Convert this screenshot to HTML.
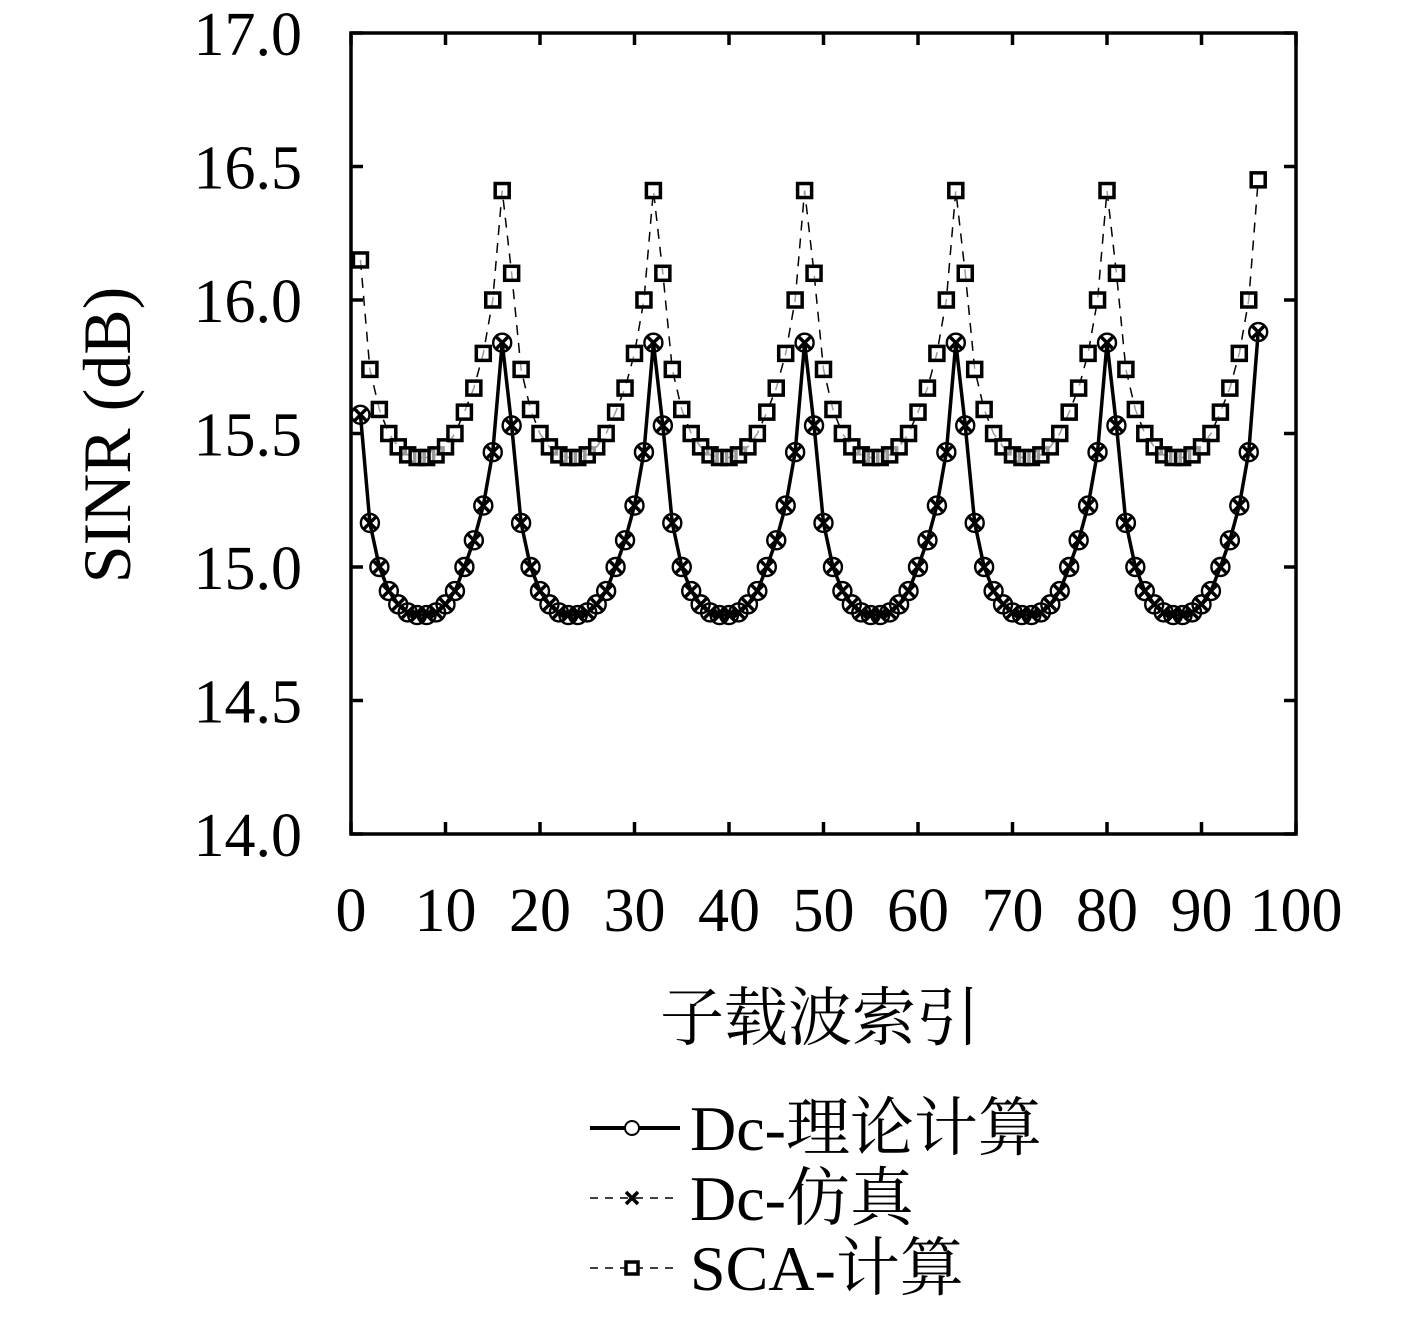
<!DOCTYPE html>
<html><head><meta charset="utf-8"><style>
body{margin:0;background:#fff}
text{font-family:"Liberation Serif","Noto Serif CJK SC","Noto Sans CJK SC",serif;fill:#000}
</style></head><body>
<svg id="s" width="1417" height="1325" xmlns="http://www.w3.org/2000/svg">
<rect x="351" y="33" width="945" height="801" fill="none" stroke="#000" stroke-width="3.5"/>
<g id="ticks" stroke="#000" stroke-width="3.5"></g>
<g id="lbl" font-size="62"></g>
<text x="130" y="435" font-size="68" text-anchor="middle" transform="rotate(-90 130 435)">SINR (dB)</text>
<text x="820" y="1040" font-size="64" text-anchor="middle">子载波索引</text>
<g id="data"></g>
<g id="leg">
<line x1="590" y1="1128" x2="680" y2="1128" stroke="#000" stroke-width="4"/>
<circle cx="632" cy="1128" r="7" fill="#fff" stroke="#000" stroke-width="2"/>
<text x="690" y="1150" font-size="64">Dc-理论计算</text>
<line x1="590" y1="1198" x2="680" y2="1198" stroke="#000" stroke-width="1.5" stroke-dasharray="8,7"/>
<path d="M626 1192L638 1204M638 1192L626 1204" stroke="#000" stroke-width="3.5"/>
<text x="690" y="1220" font-size="64">Dc-仿真</text>
<line x1="590" y1="1268" x2="680" y2="1268" stroke="#000" stroke-width="1.5" stroke-dasharray="8,7"/>
<rect x="626" y="1262" width="12" height="12" fill="#fff" stroke="#000" stroke-width="3.5"/>
<text x="690" y="1290" font-size="64">SCA-计算</text>
</g>
</svg>
<script>
var ns="http://www.w3.org/2000/svg";
function X(v){return 351+v*9.45}
function Y(v){return 834-(v-14)*267}
function el(p,t,a){var e=document.createElementNS(ns,t);for(var k in a)e.setAttribute(k,a[k]);p.appendChild(e);return e}
var tk=document.getElementById('ticks'),lb=document.getElementById('lbl');
for(var i=0;i<=10;i++){var x=X(i*10);el(tk,'line',{x1:x,y1:834,x2:x,y2:822});el(tk,'line',{x1:x,y1:33,x2:x,y2:45});
var t=el(lb,'text',{x:x,y:931,'text-anchor':'middle'});t.textContent=String(i*10);}
for(var i=0;i<=6;i++){var v=14+i*0.5,y=Y(v);el(tk,'line',{x1:351,y1:y,x2:363,y2:y});el(tk,'line',{x1:1296,y1:y,x2:1284,y2:y});
var t=el(lb,'text',{x:302,y:y+22,'text-anchor':'end'});t.textContent=v.toFixed(1);}
var c=[15.53,15.165,15.0,14.91,14.86,14.83,14.82,14.82,14.83,14.86,14.91,15.0,15.10,15.23,15.43,15.84];
var q=[16.1,15.74,15.59,15.5,15.45,15.42,15.41,15.41,15.42,15.45,15.5,15.58,15.67,15.8,16.0,16.41];
var C=[],Q=[];
for(var x=1;x<=96;x++){var j=(x-1)%16;var cv=c[j],qv=q[j];if(x==1){cv=15.57;qv=16.15}if(x==96){cv=15.88;qv=16.45}C.push([X(x),Y(cv)]);Q.push([X(x),Y(qv)]);}
var d=document.getElementById('data');
el(d,'polyline',{points:Q.map(p=>p.join(',')).join(' '),fill:'none',stroke:'#000','stroke-width':1.5,'stroke-dasharray':'10,8'});
el(d,'polyline',{points:C.map(p=>p.join(',')).join(' '),fill:'none',stroke:'#000','stroke-width':3.5});
Q.forEach(p=>el(d,'rect',{x:p[0]-7,y:p[1]-7,width:14,height:14,fill:'#fff','fill-opacity':0.6,stroke:'#000','stroke-width':3.5}));
C.forEach(p=>{el(d,'circle',{cx:p[0],cy:p[1],r:9,fill:'none',stroke:'#000','stroke-width':2.4});
el(d,'path',{d:'M'+(p[0]-6.5)+' '+(p[1]-6.5)+'L'+(p[0]+6.5)+' '+(p[1]+6.5)+'M'+(p[0]+6.5)+' '+(p[1]-6.5)+'L'+(p[0]-6.5)+' '+(p[1]+6.5),stroke:'#000','stroke-width':3.5});});
</script>
</body></html>
